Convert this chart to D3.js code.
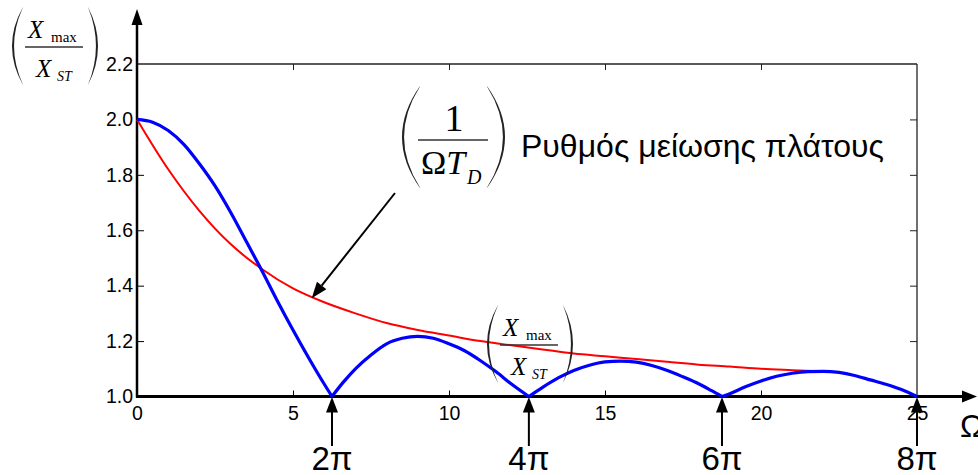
<!DOCTYPE html>
<html>
<head>
<meta charset="utf-8">
<script src="https://cdn.jsdelivr.net/npm/d3@7"></script>
<style>
  body { margin: 0; background: #fff; }
  svg { display: block; }
  .tick text { font-family: "Liberation Sans", Arial, sans-serif; font-size: 19.5px; fill: #000; }
</style>
</head>
<body>
<svg id="chart" width="978" height="475"></svg>
<script>
// Axis ticks
const xTicks = [0, 5, 10, 15, 20, 25];
const yTicks = [1.0, 1.2, 1.4, 1.6, 1.8, 2.0, 2.2];

// Amplitude ratio Xmax/Xst, one lobe between consecutive zeros
const blueArch1 = [[0, 2.0], [0.5, 1.99], [1, 1.96], [1.5, 1.91], [2, 1.84], [2.5, 1.76], [3, 1.665],
  [3.5, 1.56], [4, 1.455], [4.5, 1.345], [5, 1.24], [5.5, 1.14], [6, 1.045], [6.25, 1.0]];
const blueArch2 = [[6.25, 1.0], [6.6, 1.05], [7, 1.10], [7.5, 1.15], [8, 1.19], [8.5, 1.21], [9, 1.217],
  [9.5, 1.21], [10, 1.19], [10.5, 1.165], [11, 1.13], [11.5, 1.09], [12, 1.045], [12.56, 1.0]];
const blueArch3 = [[12.56, 1.0], [13, 1.033], [13.5, 1.067], [14, 1.094], [14.5, 1.113], [15, 1.125],
  [15.5, 1.128], [16, 1.124], [16.5, 1.112], [17, 1.094], [17.5, 1.071], [18, 1.046], [18.4, 1.022], [18.75, 1.0]];
const blueArch4 = [[18.75, 1.0], [19, 1.01], [19.5, 1.035], [20, 1.056], [20.5, 1.073], [21, 1.084],
  [21.5, 1.09], [22, 1.091], [22.5, 1.087], [23, 1.076], [23.5, 1.06], [24, 1.044], [24.5, 1.025], [25, 1.0]];

// Decay envelope (1/ΩT_D rate)
const redCurve = [[0, 2.0], [1, 1.82], [2, 1.67], [3, 1.55], [4, 1.46], [5, 1.39], [6, 1.34], [7, 1.30],
  [8, 1.265], [9, 1.24], [10, 1.22], [11, 1.20], [12, 1.185], [13, 1.17], [14, 1.155], [15, 1.145],
  [16, 1.135], [17, 1.125], [18, 1.115], [19, 1.108], [20, 1.10], [21, 1.095], [22.1, 1.09]];

// Zeros of the lobes, marked below the axis
const nodeX = [6.25, 12.56, 18.75, 25];
const nodeLabels = ["2π", "4π", "6π", "8π"];

// Point of the envelope that the annotation arrow points at
const annotTip = [5.6, 1.355];

const svg = d3.select("#chart");
const x = d3.scaleLinear().domain([0, 25]).range([137, 917]);
const y = d3.scaleLinear().domain([1.0, 2.2]).range([396.5, 64]);

const serif = '"Liberation Serif", "Times New Roman", serif';
const sans = '"Liberation Sans", Arial, sans-serif';

// Box ticks (top and right, no labels)
svg.append("g").attr("transform", `translate(0,${y(2.2)})`)
  .call(d3.axisTop(x).tickValues(xTicks.slice(1, -1)).tickSize(-6).tickFormat(""))
  .call(g => g.select(".domain").remove())
  .selectAll("line").attr("stroke", "#222");
svg.append("g").attr("transform", `translate(${x(25)},0)`)
  .call(d3.axisRight(y).tickValues(yTicks.slice(1, -1)).tickSize(-7).tickFormat(""))
  .call(g => g.select(".domain").remove())
  .selectAll("line").attr("stroke", "#222");

// Frame lines
svg.append("line").attr("x1", x(0)).attr("x2", x(25)).attr("y1", y(2.2)).attr("y2", y(2.2))
  .attr("stroke", "#222").attr("stroke-width", 1.3);
svg.append("line").attr("x1", x(25)).attr("x2", x(25)).attr("y1", y(2.2)).attr("y2", y(1.0))
  .attr("stroke", "#222").attr("stroke-width", 1.3);

// Left axis with labels
svg.append("g").attr("transform", `translate(${x(0)},0)`)
  .call(d3.axisLeft(y).tickValues(yTicks).tickSize(-7).tickPadding(4).tickFormat(d3.format(".1f")))
  .call(g => g.select(".domain").remove())
  .call(g => g.selectAll("line").attr("stroke", "#000").filter(d => d === 1.0 || d === 2.2).remove());

// Bottom axis with labels
svg.append("g").attr("transform", `translate(0,${y(1.0)})`)
  .call(d3.axisBottom(x).tickValues(xTicks).tickSize(-6).tickPadding(10))
  .call(g => g.select(".domain").remove())
  .call(g => g.selectAll("line").attr("stroke", "#000").filter(d => d === 0 || d === 25).remove());

// Thick axis lines with arrowheads
const y0 = y(1.0), x0 = x(0);
svg.append("line").attr("x1", x0).attr("x2", x0).attr("y1", y0 + 1).attr("y2", 20)
  .attr("stroke", "#000").attr("stroke-width", 2.5);
svg.append("path").attr("d", `M${x0},9 L${x0 - 5.5},25 L${x0 + 5.5},25 Z`).attr("fill", "#000");
svg.append("line").attr("x1", x0 - 1).attr("x2", 966).attr("y1", y0).attr("y2", y0)
  .attr("stroke", "#000").attr("stroke-width", 3);
svg.append("path").attr("d", `M977,${y0} L962,${y0 - 6} L962,${y0 + 6} Z`).attr("fill", "#000");
svg.append("text").attr("x", 960).attr("y", 437).attr("font-family", sans).attr("font-size", 32)
  .text("Ω");

// Curves
const line = d3.line().x(d => x(d[0])).y(d => y(d[1])).curve(d3.curveMonotoneX);
svg.append("path").attr("d", line(redCurve)).attr("fill", "none")
  .attr("stroke", "#ff0000").attr("stroke-width", 2);
[blueArch1, blueArch2, blueArch3, blueArch4].forEach(a => {
  svg.append("path").attr("d", line(a)).attr("fill", "none")
    .attr("stroke", "#0000ff").attr("stroke-width", 3.2).attr("stroke-linejoin", "round");
});

// Node arrows below the axis
nodeX.forEach((v, i) => {
  const cx = x(v);
  svg.append("line").attr("x1", cx).attr("x2", cx).attr("y1", 410).attr("y2", 446)
    .attr("stroke", "#000").attr("stroke-width", 2);
  svg.append("path").attr("d", `M${cx},${y0 + 0.5} L${cx - 6},${y0 + 16} L${cx + 6},${y0 + 16} Z`)
    .attr("fill", "#000");
  svg.append("text").attr("x", cx).attr("y", 470).attr("text-anchor", "middle")
    .attr("font-family", sans).attr("font-size", 33).text(nodeLabels[i]);
});

// Annotation arrow towards the envelope
{
  const tx = x(annotTip[0]), ty = y(annotTip[1]);
  const sx = 395, sy = 193;
  const ang = Math.atan2(ty - sy, tx - sx);
  const L = 16, W = 6;
  const bx = tx - L * Math.cos(ang), by = ty - L * Math.sin(ang);
  svg.append("line").attr("x1", sx).attr("y1", sy).attr("x2", bx).attr("y2", by)
    .attr("stroke", "#000").attr("stroke-width", 2);
  svg.append("path").attr("d",
    `M${tx},${ty} L${bx + W * Math.sin(ang)},${by - W * Math.cos(ang)} L${bx - W * Math.sin(ang)},${by + W * Math.cos(ang)} Z`)
    .attr("fill", "#000");
}

// Big parenthesis drawn as a filled crescent
function paren(g, xa, xb, ya, yb, left) {
  const mid = (ya + yb) / 2, t = 2.2;
  let d;
  if (left) {
    const co = 2 * xa - xb, ci = 2 * (xa + t) - xb;
    d = `M${xb},${ya} Q${co},${mid} ${xb},${yb} L${xb - 0.3},${yb - 1} Q${ci},${mid} ${xb - 0.3},${ya + 1} Z`;
  } else {
    const co = 2 * xb - xa, ci = 2 * (xb - t) - xa;
    d = `M${xa},${ya} Q${co},${mid} ${xa},${yb} L${xa + 0.3},${yb - 1} Q${ci},${mid} ${xa + 0.3},${ya + 1} Z`;
  }
  g.append("path").attr("d", d).attr("fill", "#222");
}

// (Xmax / Xst) fraction label
function ratioLabel(ox, oy) {
  const g = svg.append("g").attr("transform", `translate(${ox},${oy})`);
  paren(g, 12, 23, 7, 85, true);
  paren(g, 88, 98, 7, 85, false);
  g.append("text").attr("x", 28).attr("y", 38).attr("font-family", serif).attr("font-style", "italic")
    .attr("font-size", 25).text("X");
  g.append("text").attr("x", 51).attr("y", 42).attr("font-family", serif)
    .attr("font-size", 15).text("max");
  g.append("line").attr("x1", 25).attr("x2", 83).attr("y1", 47).attr("y2", 47)
    .attr("stroke", "#333").attr("stroke-width", 1.5);
  g.append("text").attr("x", 36).attr("y", 77).attr("font-family", serif).attr("font-style", "italic")
    .attr("font-size", 25).text("X");
  g.append("text").attr("x", 57).attr("y", 81).attr("font-family", serif).attr("font-style", "italic")
    .attr("font-size", 14).text("ST");
}
ratioLabel(0, 0);
ratioLabel(475, 298);

// (1 / ΩT_D) label with its caption
{
  const g = svg.append("g");
  paren(g, 402, 420, 86, 188, true);
  paren(g, 487, 505, 86, 188, false);
  g.append("text").attr("x", 454).attr("y", 131).attr("text-anchor", "middle")
    .attr("font-family", serif).attr("font-size", 38).text("1");
  g.append("line").attr("x1", 418).attr("x2", 488).attr("y1", 140).attr("y2", 140)
    .attr("stroke", "#333").attr("stroke-width", 1.5);
  const t = g.append("text").attr("x", 421).attr("y", 174).attr("font-family", serif).attr("font-size", 34);
  t.append("tspan").text("Ω");
  t.append("tspan").attr("font-style", "italic").text("T");
  g.append("text").attr("x", 467).attr("y", 184).attr("font-family", serif).attr("font-style", "italic")
    .attr("font-size", 20).text("D");
  g.append("text").attr("x", 521).attr("y", 157).attr("font-family", sans).attr("font-size", 32)
    .text("Ρυθμός μείωσης πλάτους");
}
</script>
</body>
</html>
